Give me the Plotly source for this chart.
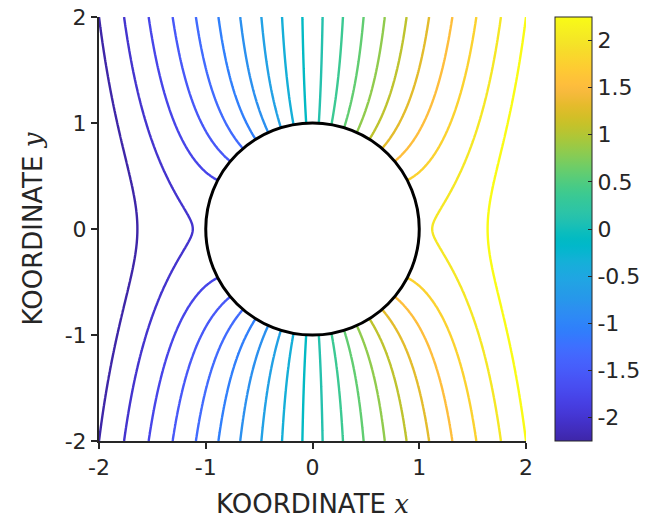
import numpy as np
import plotly.graph_objects as go

# Potential flow around a cylinder of radius 1: phi = x (1 + R^2 / r^2)
cyl_radius = 1.0
x_range = [-2, 2]
y_range = [-2, 2]
n_levels = 20
level_min = -2.25
level_max = 2.25
x_ticks = [-2, -1, 0, 1, 2]
y_ticks = [-2, -1, 0, 1, 2]
cbar_ticks = [-2, -1.5, -1, -0.5, 0, 0.5, 1, 1.5, 2]
cbar_ticklabels = ["-2", "-1.5", "-1", "-0.5", "0", "0.5", "1", "1.5", "2"]

xs = np.linspace(x_range[0], x_range[1], 321)
ys = np.linspace(y_range[0], y_range[1], 321)
X, Y = np.meshgrid(xs, ys)
R2 = X**2 + Y**2
PHI = X * (1 + cyl_radius**2 / R2)
PHI[R2 < cyl_radius**2 * 0.98] = np.nan

parula = [
    [0.2422, 0.1504, 0.6603], [0.2504, 0.1650, 0.7076], [0.2578, 0.1818, 0.7511], [0.2647, 0.1978, 0.7952],
    [0.2706, 0.2147, 0.8364], [0.2751, 0.2342, 0.8710], [0.2783, 0.2559, 0.8991], [0.2803, 0.2782, 0.9221],
    [0.2813, 0.3006, 0.9414], [0.2810, 0.3228, 0.9579], [0.2795, 0.3447, 0.9717], [0.2760, 0.3667, 0.9829],
    [0.2699, 0.3892, 0.9906], [0.2602, 0.4123, 0.9952], [0.2440, 0.4358, 0.9988], [0.2206, 0.4603, 0.9973],
    [0.1963, 0.4847, 0.9892], [0.1834, 0.5074, 0.9798], [0.1786, 0.5289, 0.9682], [0.1764, 0.5499, 0.9520],
    [0.1687, 0.5703, 0.9359], [0.1540, 0.5902, 0.9218], [0.1460, 0.6091, 0.9079], [0.1380, 0.6276, 0.8973],
    [0.1248, 0.6459, 0.8883], [0.1113, 0.6635, 0.8763], [0.0952, 0.6798, 0.8598], [0.0689, 0.6948, 0.8394],
    [0.0297, 0.7082, 0.8163], [0.0036, 0.7203, 0.7917], [0.0067, 0.7312, 0.7660], [0.0433, 0.7411, 0.7394],
    [0.0964, 0.7500, 0.7120], [0.1408, 0.7584, 0.6842], [0.1717, 0.7670, 0.6554], [0.1938, 0.7758, 0.6251],
    [0.2161, 0.7843, 0.5923], [0.2470, 0.7918, 0.5567], [0.2906, 0.7973, 0.5188], [0.3406, 0.8008, 0.4789],
    [0.3909, 0.8029, 0.4354], [0.4456, 0.8024, 0.3909], [0.5044, 0.7993, 0.3480], [0.5616, 0.7942, 0.3045],
    [0.6174, 0.7876, 0.2612], [0.6720, 0.7793, 0.2227], [0.7242, 0.7698, 0.1910], [0.7738, 0.7598, 0.1646],
    [0.8203, 0.7498, 0.1535], [0.8634, 0.7406, 0.1596], [0.9035, 0.7330, 0.1774], [0.9393, 0.7288, 0.2100],
    [0.9728, 0.7298, 0.2394], [0.9956, 0.7434, 0.2371], [0.9970, 0.7659, 0.2199], [0.9952, 0.7893, 0.2028],
    [0.9892, 0.8136, 0.1885], [0.9786, 0.8386, 0.1766], [0.9676, 0.8639, 0.1643], [0.9610, 0.8890, 0.1537],
    [0.9597, 0.9135, 0.1423], [0.9628, 0.9373, 0.1265], [0.9691, 0.9606, 0.1064], [0.9769, 0.9839, 0.0805],
]
colorscale = [[i / (len(parula) - 1), "rgb(%d,%d,%d)" % tuple(int(round(c * 255)) for c in rgb)]
              for i, rgb in enumerate(parula)]

step = (level_max - level_min) / (n_levels - 1)
font_family = "DejaVu Sans, Verdana, sans-serif"
axis_color = "#262626"
tick_size = 22
title_size = 26

fig = go.Figure()
fig.add_trace(go.Contour(
    x=xs, y=ys, z=PHI,
    zmin=level_min, zmax=level_max, colorscale=colorscale, showscale=False,
    contours=dict(start=level_min, end=level_max + 1e-6, size=step, coloring="lines"),
    line=dict(width=2.4),
    connectgaps=False,
    hoverinfo="skip",
))

# colour bar only (continuous gradient), no visible marks
fig.add_trace(go.Scatter(
    x=[None, None], y=[None, None], mode="markers",
    marker=dict(
        color=[level_min, level_max], cmin=level_min, cmax=level_max,
        colorscale=colorscale, showscale=True,
        colorbar=dict(
            x=(555 - 99) / 427, xanchor="left", xpad=0,
            y=0.5, yanchor="middle", len=1.0, lenmode="fraction", ypad=0,
            thickness=37, thicknessmode="pixels",
            outlinewidth=1, outlinecolor=axis_color,
            ticks="inside", ticklen=4, tickcolor=axis_color, tickwidth=1,
            tickvals=cbar_ticks, ticktext=cbar_ticklabels,
            tickfont=dict(family=font_family, size=tick_size, color=axis_color),
        ),
    ),
    hoverinfo="skip", showlegend=False,
))

fig.add_shape(type="circle", xref="x", yref="y",
              x0=-cyl_radius, y0=-cyl_radius, x1=cyl_radius, y1=cyl_radius,
              fillcolor="white", line=dict(color="black", width=3), layer="above")

fig.update_layout(
    width=662, height=522,
    margin=dict(l=99, r=136, t=17, b=81, autoexpand=False),
    paper_bgcolor="white", plot_bgcolor="white",
    showlegend=False,
    font=dict(family=font_family, color=axis_color),
    xaxis=dict(
        range=x_range, tickvals=x_ticks, ticktext=[str(t) for t in x_ticks],
        showgrid=False, zeroline=False, showline=True, linecolor=axis_color, linewidth=2,
        ticks="outside", ticklen=6, tickwidth=2, tickcolor=axis_color,
        tickfont=dict(family=font_family, size=tick_size, color=axis_color),
        automargin=False,
        title=dict(text="KOORDINATE <span style='font-family:DejaVu Serif;font-style:italic'>x</span>",
                   font=dict(family=font_family, size=title_size, color=axis_color)),
    ),
    yaxis=dict(
        range=y_range, tickvals=y_ticks, ticktext=[str(t) for t in y_ticks],
        showgrid=False, zeroline=False, showline=True, linecolor=axis_color, linewidth=2,
        ticks="outside", ticklen=6, tickwidth=2, tickcolor=axis_color,
        tickfont=dict(family=font_family, size=tick_size, color=axis_color),
        automargin=False,
        title=dict(text="KOORDINATE <span style='font-family:DejaVu Serif;font-style:italic'>y</span>",
                   font=dict(family=font_family, size=title_size, color=axis_color)),
    ),
)

fig.write_html("out.html",
               config={"displayModeBar": False},
               post_script="document.body.style.margin='0';document.body.style.overflow='hidden';")
